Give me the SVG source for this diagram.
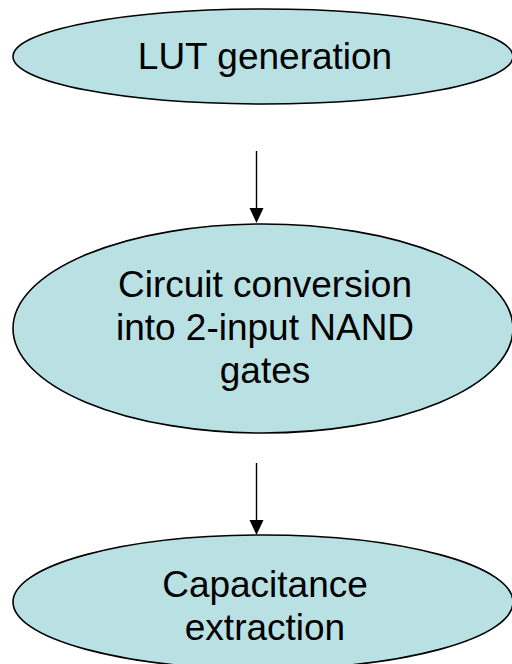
<svg xmlns="http://www.w3.org/2000/svg" width="512" height="664" viewBox="0 0 512 664">
<style>
.node ellipse{fill:#B9E0E3;stroke:#000;stroke-width:1.6}
.node text{font-family:"Liberation Sans",Arial,sans-serif;font-size:37px;fill:#000;text-anchor:middle}
.edge{stroke:#000;stroke-width:1.4;fill:none}
.head{fill:#000}
</style>
<rect width="512" height="664" fill="#fff"/>
<g id="connectors">
<line class="edge" x1="256.5" y1="151" x2="256.5" y2="209"/>
<path class="head" d="M249.5,208 L263.5,208 L256.5,223 Z"/>
<line class="edge" x1="256.5" y1="463" x2="256.5" y2="521"/>
<path class="head" d="M249.5,520 L263.5,520 L256.5,535 Z"/>
</g>
<g id="node1" class="node">
<ellipse cx="263" cy="56.5" rx="250" ry="47.5"/>
<text x="265" y="69">LUT generation</text>
</g>
<g id="node2" class="node">
<ellipse cx="263" cy="328.5" rx="250" ry="104.5"/>
<text x="265" y="297">Circuit conversion</text>
<text x="265" y="340">into 2-input NAND</text>
<text x="265" y="383">gates</text>
</g>
<g id="node3" class="node">
<ellipse cx="263" cy="602" rx="250" ry="67"/>
<text x="265" y="597">Capacitance</text>
<text x="265" y="640">extraction</text>
</g>
</svg>
